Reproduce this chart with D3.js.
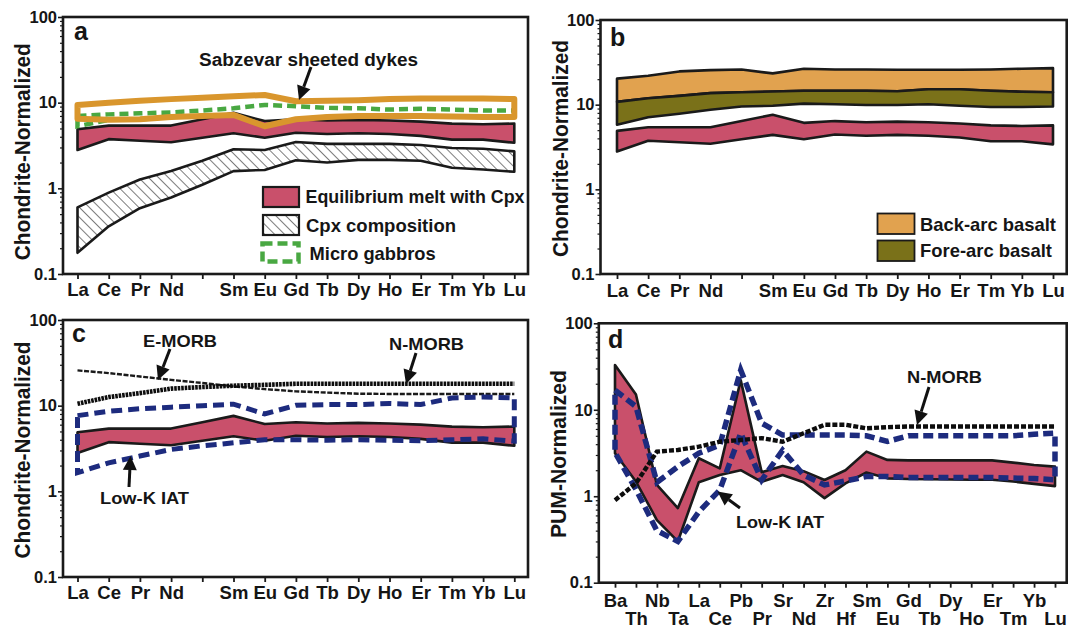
<!DOCTYPE html>
<html>
<head>
<meta charset="utf-8">
<script src="https://cdnjs.cloudflare.com/ajax/libs/d3/7.8.5/d3.min.js"></script>
<style>
  body { margin: 0; background: #fff; }
  svg text { font-family: "Liberation Sans", Arial, Helvetica, sans-serif; font-weight: bold; fill: #151515; }
</style>
</head>
<body>
<svg id="chart" width="1070" height="630"></svg>
<script>
// ---- categories ----
var reeLabels = ["La","Ce","Pr","Nd","Pm","Sm","Eu","Gd","Tb","Dy","Ho","Er","Tm","Yb","Lu"];
var spiderLabels = ["Ba","Th","Nb","Ta","La","Ce","Pb","Pr","Sr","Nd","Zr","Hf","Sm","Eu","Gd","Tb","Dy","Ho","Er","Tm","Yb","Lu"];
var majorTicks = [0.1, 1, 10, 100];

// ---- REE (chondrite normalized) ----
var meltUpper = [4.9, 5.4, 5.4, 5.4, 6.4, 7.6, 6.1, 6.4, 6.2, 6.3, 6.2, 6.0, 5.7, 5.6, 5.7];
var meltLower = [2.8, 3.75, 3.6, 3.45, 3.9, 4.4, 3.9, 4.45, 4.3, 4.4, 4.3, 4.1, 3.7, 3.7, 3.4];

var sabzUpper = [9.4, 10.0, 10.5, 11.0, 11.4, 11.9, 12.3, 10.4, 10.5, 10.7, 11.0, 11.2, 11.2, 11.2, 11.0];
var sabzLower = [6.5, 6.3, 6.4, 6.8, 7.0, 7.2, 5.3, 6.4, 6.8, 7.0, 7.0, 7.0, 6.9, 6.8, 6.8];

var gabbroUpper = [7.0, 7.3, 7.5, 7.7, 8.1, 8.6, 9.4, 9.1, 8.7, 8.6, 8.3, 8.5, 8.3, 8.1, 8.1];
var gabbroLower = [5.3, 6.3, 6.4, 6.8, 7.0, 7.2, 5.4, 6.4, 6.8, 7.0, 7.0, 7.0, 6.9, 6.8, 6.8];

var cpxUpper = [0.6, 0.89, 1.27, 1.59, 2.1, 2.86, 2.8, 3.47, 3.3, 3.3, 3.3, 3.2, 2.96, 2.9, 2.7];
var cpxLower = [0.177, 0.36, 0.586, 0.78, 1.1, 1.59, 1.64, 2.13, 2.0, 2.15, 2.15, 2.1, 1.74, 1.66, 1.56];

var backArcUpper = [20.3, 22, 24.7, 25.6, 26, 23.4, 26.6, 26, 26, 25.8, 25.8, 25.8, 26, 26.6, 27];
var backArcLower = [10.8, 11.9, 12.7, 13.7, 14, 14.3, 14.6, 14.6, 14.6, 14.4, 15.2, 15.2, 14.6, 14.2, 14];
var foreArcUpper = [10.8, 11.9, 12.7, 13.7, 14, 14.3, 14.6, 14.6, 14.6, 14.4, 15.2, 15.2, 14.6, 14.2, 14];
var foreArcLower = [5.8, 7.1, 7.8, 8.7, 9.5, 9.7, 10.3, 10.1, 9.9, 9.9, 10.1, 9.7, 9.4, 9.4, 9.5];

var eMorbRee = [25.8, 24, 21.9, 20, 18.4, 16.8, 15.6, 14.7, 14.2, 13.8, 13.7, 13.7, 13.7, 13.7, 13.7];
var nMorbRee = [10.5, 12.6, 14, 15.8, 16.5, 17.1, 17.5, 18, 18, 18, 18, 18, 18, 18, 18];
var iatReeUpper = [7.65, 8.6, 9.2, 9.6, 10, 10.4, 8.0, 10.1, 10.3, 10.3, 10.6, 10.3, 12.3, 12.6, 12.3];
var iatReeLower = [1.65, 2.15, 2.58, 3.08, 3.4, 3.68, 4.0, 4.0, 3.95, 4.0, 3.95, 3.9, 4.0, 4.1, 3.85];

// ---- spider (PUM normalized) ----
var meltPumUpper = [33, 15, 1.35, 0.73, 2.75, 2.1, 22, 1.9, 2.24, 1.95, 1.54, 2.0, 3.28, 2.63, 2.6, 2.6, 2.6, 2.6, 2.6, 2.45, 2.3, 2.2];
var meltPumLower = [3.14, 1.48, 0.53, 0.3, 1.45, 1.76, 2.0, 1.47, 1.76, 1.45, 0.95, 1.41, 1.88, 1.61, 1.58, 1.57, 1.56, 1.55, 1.55, 1.48, 1.39, 1.31];
var nMorbPum = [0.9, 1.41, 3.28, 3.43, 3.74, 4.27, 4.47, 4.7, 4.27, 5.35, 6.7, 6.7, 6.1, 6.3, 6.4, 6.4, 6.4, 6.4, 6.4, 6.4, 6.4, 6.4];
var iatPumUpper = [16.9, 10.9, 1.45, 2.2, 3.14, 3.9, 28.8, 7.0, 5.1, 5.1, 5.1, 5.1, 5.0, 4.3, 5.0, 5.0, 5.0, 5.0, 5.0, 5.0, 5.2, 5.35];
var iatPumLower = [3.2, 1.2, 0.4, 0.3, 0.66, 1.18, 5.35, 1.54, 3.4, 1.76, 1.35, 1.5, 1.69, 1.69, 1.65, 1.65, 1.65, 1.65, 1.65, 1.62, 1.6, 1.55];

// colours
var RED = "#c9506b", ORANGE = "#e1a24f", OLIVE = "#7a7119", SABZ = "#d9962d",
    GREEN = "#49a842", BLUE = "#1d2b7e", INK = "#1a1a1a";

var svg = d3.select("#chart");

var defs = svg.append("defs");
var hatch = defs.append("pattern")
    .attr("id", "hatch")
    .attr("patternUnits", "userSpaceOnUse")
    .attr("width", 7).attr("height", 7)
    .attr("patternTransform", "rotate(-45)");
hatch.append("rect").attr("width", 7).attr("height", 7).attr("fill", "#fff");
hatch.append("line").attr("x1", 0).attr("y1", 0).attr("x2", 0).attr("y2", 7)
    .attr("stroke", "#111").attr("stroke-width", 1.1);

function label(x, y, str, size, len, anchor) {
  var t = svg.append("text").attr("x", x).attr("y", y).attr("font-size", size).text(str);
  if (anchor) t.attr("text-anchor", anchor);
  if (len) t.attr("textLength", len).attr("lengthAdjust", "spacingAndGlyphs");
  return t;
}

function yTitle(x, y, str, len) {
  svg.append("text")
    .attr("transform", "translate(" + x + "," + y + ") rotate(-90)")
    .attr("text-anchor", "middle")
    .attr("dominant-baseline", "central")
    .attr("font-size", 22)
    .attr("textLength", len).attr("lengthAdjust", "spacingAndGlyphs")
    .text(str);
}

function makePanel(p, cats, twoRows) {
  var x = d3.scalePoint().domain(cats).range([p.xFirst, p.xLast]);
  var y = d3.scaleLog().domain([0.1, 100]).range([p.y1, p.y0]);
  var g = svg.append("g");
  var minors = [];
  [0.1, 1, 10].forEach(function(d) { for (var k = 2; k < 10; k++) minors.push(d * k); });

  g.append("g").attr("transform", "translate(" + p.x0 + ",0)")
    .call(d3.axisLeft(y).tickValues(minors).tickSize(3).tickFormat(""))
    .call(function(s) { s.select(".domain").remove(); s.selectAll("line").attr("stroke", INK).attr("stroke-width", 1.2); });

  g.append("g").attr("transform", "translate(" + p.x0 + ",0)")
    .call(d3.axisLeft(y).tickValues(majorTicks).tickSize(5).tickPadding(1)
      .tickFormat(function(d) { return String(d); }))
    .call(function(s) {
      s.select(".domain").remove();
      s.selectAll("line").attr("stroke", INK).attr("stroke-width", 1.6);
      s.selectAll("text").attr("font-size", 16.5).attr("fill", "#151515");
    });

  var xa = g.append("g").attr("transform", "translate(0," + p.y1 + ")")
    .call(d3.axisBottom(x).tickSize(5).tickSizeOuter(0)
      .tickFormat(function(d) { return d === "Pm" ? "" : d; }));
  xa.select(".domain").remove();
  xa.selectAll("line").attr("stroke", INK).attr("stroke-width", 1.8);
  xa.selectAll("text").attr("font-size", 18.5).attr("dy", 0).attr("fill", "#151515")
    .attr("y", function(d, i) {
      if (!twoRows) return p.lab;
      return i % 2 === 0 ? p.lab : p.lab + 18.5;
    });

  var layer = svg.append("g");
  return { x: x, y: y, layer: layer, p: p };
}

function frame(P) {
  var p = P.p;
  svg.append("rect").attr("x", p.x0).attr("y", p.y0)
    .attr("width", p.x1 - p.x0).attr("height", p.y1 - p.y0)
    .attr("fill", "none").attr("stroke", INK).attr("stroke-width", 2.6);
}

function bandPath(P, cats, upper, lower) {
  var pts = cats.map(function(c, i) { return [P.x(c), P.y(upper[i])]; });
  for (var i = cats.length - 1; i >= 0; i--) pts.push([P.x(cats[i]), P.y(lower[i])]);
  return d3.line()(pts) + "Z";
}

function linePath(P, cats, vals) {
  return d3.line()(cats.map(function(c, i) { return [P.x(c), P.y(vals[i])]; }));
}

function arrow(x1, y1, x2, y2) {
  var ang = Math.atan2(y2 - y1, x2 - x1), L = 14, W = 7;
  var bx = x2 - L * Math.cos(ang), by = y2 - L * Math.sin(ang);
  svg.append("line").attr("x1", x1).attr("y1", y1).attr("x2", bx).attr("y2", by)
    .attr("stroke", "#111").attr("stroke-width", 3);
  svg.append("path")
    .attr("d", "M" + x2 + "," + y2 + "L" + (bx + W * Math.sin(ang)) + "," + (by - W * Math.cos(ang)) +
      "L" + (bx - W * Math.sin(ang)) + "," + (by + W * Math.cos(ang)) + "Z")
    .attr("fill", "#111");
}

// ---------- panel a ----------
var A = makePanel({ x0: 63, x1: 528, y0: 17, y1: 274, xFirst: 77.5, xLast: 514.3, lab: 22 }, reeLabels, false);
A.layer.append("path").attr("d", bandPath(A, reeLabels, cpxUpper, cpxLower))
  .attr("fill", "url(#hatch)").attr("stroke", INK).attr("stroke-width", 2.6).attr("stroke-linejoin", "round");
A.layer.append("path").attr("d", bandPath(A, reeLabels, meltUpper, meltLower))
  .attr("fill", RED).attr("stroke", INK).attr("stroke-width", 2.6).attr("stroke-linejoin", "round");
A.layer.append("path").attr("d", bandPath(A, reeLabels, gabbroUpper, gabbroLower))
  .attr("fill", "none").attr("stroke", GREEN).attr("stroke-width", 4.5).attr("stroke-dasharray", "9,5");
A.layer.append("path").attr("d", bandPath(A, reeLabels, sabzUpper, sabzLower))
  .attr("fill", "none").attr("stroke", SABZ).attr("stroke-width", 6).attr("stroke-linejoin", "round");
frame(A);
label(74, 40, "a", 25);
yTitle(22.4, 151.7, "Chondrite-Normalized", 217);
label(199, 66, "Sabzevar sheeted dykes", 18, 219);
arrow(311, 67, 299, 100);

// legend a
svg.append("rect").attr("x", 263).attr("y", 187).attr("width", 36).attr("height", 20)
  .attr("fill", RED).attr("stroke", INK).attr("stroke-width", 2.2);
label(305.5, 203, "Equilibrium melt with Cpx", 19, 219);
svg.append("rect").attr("x", 263).attr("y", 215).attr("width", 36).attr("height", 20)
  .attr("fill", "url(#hatch)").attr("stroke", INK).attr("stroke-width", 2.2);
label(306, 232, "Cpx composition", 19, 150);
svg.append("rect").attr("x", 262.5).attr("y", 243.5).attr("width", 36).attr("height", 18)
  .attr("fill", "none").attr("stroke", GREEN).attr("stroke-width", 4.5).attr("stroke-dasharray", "10,5");
label(309.6, 260, "Micro gabbros", 19, 126);

// ---------- panel b ----------
var B = makePanel({ x0: 600.5, x1: 1066.7, y0: 20, y1: 274, xFirst: 617, xLast: 1053, lab: 22.5 }, reeLabels, false);
B.layer.append("path").attr("d", bandPath(B, reeLabels, backArcUpper, backArcLower))
  .attr("fill", ORANGE).attr("stroke", INK).attr("stroke-width", 2.6).attr("stroke-linejoin", "round");
B.layer.append("path").attr("d", bandPath(B, reeLabels, foreArcUpper, foreArcLower))
  .attr("fill", OLIVE).attr("stroke", INK).attr("stroke-width", 2.6).attr("stroke-linejoin", "round");
B.layer.append("path").attr("d", bandPath(B, reeLabels, meltUpper, meltLower))
  .attr("fill", RED).attr("stroke", INK).attr("stroke-width", 2.6).attr("stroke-linejoin", "round");
frame(B);
label(610, 46, "b", 25);
yTitle(560, 148.5, "Chondrite-Normalized", 217);
svg.append("rect").attr("x", 877.5).attr("y", 213.5).attr("width", 37).attr("height", 20.5)
  .attr("fill", ORANGE).attr("stroke", INK).attr("stroke-width", 1.8);
label(920, 230.5, "Back-arc basalt", 19, 136);
svg.append("rect").attr("x", 877.5).attr("y", 240.5).attr("width", 37).attr("height", 20.5)
  .attr("fill", OLIVE).attr("stroke", INK).attr("stroke-width", 1.8);
label(920, 256.5, "Fore-arc basalt", 19, 132);

// ---------- panel c ----------
var C = makePanel({ x0: 63, x1: 528, y0: 320, y1: 577, xFirst: 77.5, xLast: 514.3, lab: 22 }, reeLabels, false);
C.layer.append("path").attr("d", bandPath(C, reeLabels, meltUpper, meltLower))
  .attr("fill", RED).attr("stroke", INK).attr("stroke-width", 2.6).attr("stroke-linejoin", "round");
C.layer.append("path").attr("d", linePath(C, reeLabels, eMorbRee))
  .attr("fill", "none").attr("stroke", "#1a1a1a").attr("stroke-width", 2.4).attr("stroke-dasharray", "5,1.6");
C.layer.append("path").attr("d", linePath(C, reeLabels, nMorbRee))
  .attr("fill", "none").attr("stroke", "#0d0d0d").attr("stroke-width", 4.6).attr("stroke-dasharray", "2.6,0.9");
C.layer.append("path").attr("d", bandPath(C, reeLabels, iatReeUpper, iatReeLower))
  .attr("fill", "none").attr("stroke", BLUE).attr("stroke-width", 5).attr("stroke-dasharray", "11,6");
frame(C);
label(72, 342, "c", 25);
yTitle(22, 450, "Chondrite-Normalized", 217);
label(143, 347, "E-MORB", 17, 74);
arrow(170, 349, 158, 380);
label(389, 350, "N-MORB", 17, 75);
arrow(416, 353, 406, 384);
label(100, 504, "Low-K IAT", 17, 89);
arrow(129, 487, 130.5, 456);

// ---------- panel d ----------
var D = makePanel({ x0: 598.8, x1: 1066.7, y0: 323.3, y1: 582.7, xFirst: 615, xLast: 1055, lab: 24 }, spiderLabels, true);
D.layer.append("path").attr("d", bandPath(D, spiderLabels, meltPumUpper, meltPumLower))
  .attr("fill", RED).attr("stroke", INK).attr("stroke-width", 2.6).attr("stroke-linejoin", "round");
D.layer.append("path").attr("d", bandPath(D, spiderLabels, iatPumUpper, iatPumLower))
  .attr("fill", "none").attr("stroke", BLUE).attr("stroke-width", 5.5).attr("stroke-dasharray", "10,5");
D.layer.append("path").attr("d", linePath(D, spiderLabels, nMorbPum))
  .attr("fill", "none").attr("stroke", "#0d0d0d").attr("stroke-width", 4.4).attr("stroke-dasharray", "5,2");
frame(D);
label(608, 348, "d", 25);
yTitle(558.5, 454, "PUM-Normalized", 168);
label(907, 383, "N-MORB", 17, 75);
arrow(929, 387, 917, 425);
label(736, 528, "Low-K IAT", 17, 88);
arrow(740, 508, 717.5, 491.5);
</script>
</body>
</html>
